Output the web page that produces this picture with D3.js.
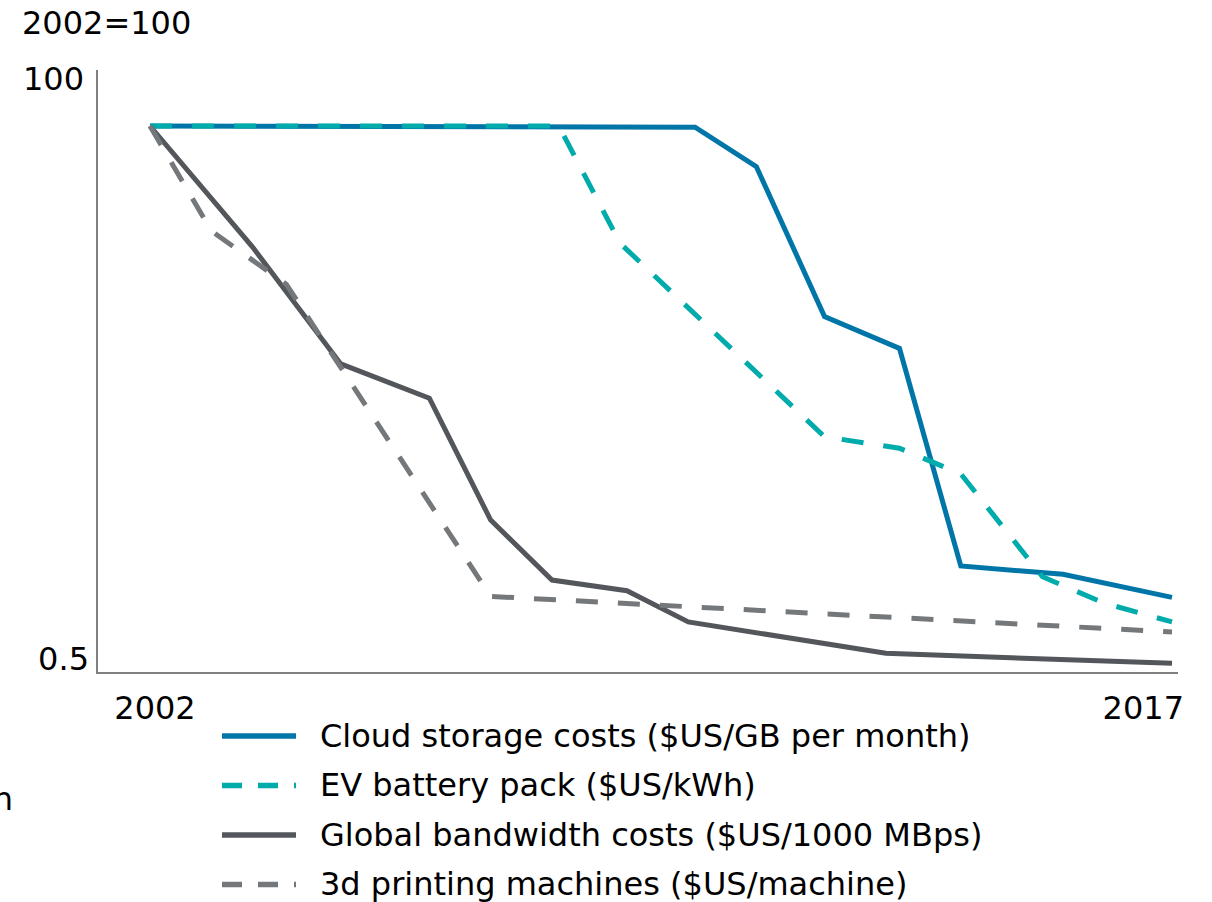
<!DOCTYPE html>
<html>
<head>
<meta charset="utf-8">
<script src="https://cdn.jsdelivr.net/npm/d3@7"></script>
<style>
  body { margin: 0; background: #fff; }
  text { font-family: "DejaVu Sans", Verdana, sans-serif; fill: #000; }
</style>
</head>
<body>
<div id="graph"></div>
<script>
// --------------------------------------
//  Data (index, 2002 = 100)
// --------------------------------------

const seriesNames = [
  "Cloud storage costs ($US/GB per month)",
  "EV battery pack ($US/kWh)",
  "Global bandwidth costs ($US/1000 MBps)",
  "3d printing machines ($US/machine)"
];

const cloudYears  = [2002, 2010.0, 2010.9, 2011.9, 2013.0, 2013.9, 2015.4, 2017];
const cloudValues = [100, 98.8, 67.4, 15.8, 11.6, 1.41, 1.30, 1.04];

const evYears  = [2002, 2008.0, 2008.9, 2011.9, 2013.0, 2013.9, 2015.1, 2016.0, 2017];
const evValues = [100, 100, 32.1, 4.93, 4.41, 3.44, 1.27, 0.985, 0.82];

const bandwidthYears  = [2002, 2003.5, 2004.8, 2006.1, 2007.0, 2007.9, 2009.0, 2009.9, 2012.8, 2017];
const bandwidthValues = [100, 31.1, 9.98, 7.16, 2.20, 1.23, 1.11, 0.82, 0.605, 0.549];

const printingYears  = [2002, 2002.9, 2004.0, 2007.0, 2017];
const printingValues = [100, 36.2, 21.6, 1.05, 0.744];

const xTickLabels = ["2002", "2017"];
const yTickLabels = ["0.5", "100"];
const unitLabel = "2002=100";

// --------------------------------------
//  Canvas
// --------------------------------------

const W = 1212, H = 902;
const frame = { left: 97, right: 1178, top: 70, bottom: 673 };
const fs = 32;

let svg = d3.select("#graph")
  .append("svg")
  .attr("width", W)
  .attr("height", H);

// --------------------------------------
//  Scales
// --------------------------------------

let x = d3.scaleLinear().domain([2002, 2017]).range([150, 1172]);
let y = d3.scaleLog().domain([0.5, 100]).range([frame.bottom, 126]);

let color = d3.scaleOrdinal()
  .domain(seriesNames)
  .range(["#0076a8", "#00abab", "#53565a", "#75787b"]);

const dashes = ["none", "22,20", "none", "22,20"];

const series = [
  { name: seriesNames[0], years: cloudYears, values: cloudValues },
  { name: seriesNames[1], years: evYears, values: evValues },
  { name: seriesNames[2], years: bandwidthYears, values: bandwidthValues },
  { name: seriesNames[3], years: printingYears, values: printingValues }
].map((s, i) => ({
  ...s,
  dash: dashes[i],
  points: s.years.map((yr, j) => ({ year: yr, value: s.values[j] }))
}));

// --------------------------------------
//  Axes
// --------------------------------------

svg.append("line")
  .attr("x1", frame.left).attr("x2", frame.left)
  .attr("y1", frame.top).attr("y2", frame.bottom + 1)
  .attr("stroke", "#808080").attr("stroke-width", 2);

svg.append("line")
  .attr("x1", frame.left).attr("x2", frame.right)
  .attr("y1", frame.bottom).attr("y2", frame.bottom)
  .attr("stroke", "#808080").attr("stroke-width", 2);

svg.append("text")
  .attr("x", 22).attr("y", 22).attr("dy", "0.36em")
  .attr("font-size", fs)
  .text(unitLabel);

// y labels sit at the ends of the axis
svg.append("text")
  .attr("x", 84).attr("y", frame.top + 8).attr("dy", "0.36em")
  .attr("text-anchor", "end").attr("font-size", fs)
  .text(yTickLabels[1]);

svg.append("text")
  .attr("x", 89).attr("y", frame.bottom - 15).attr("dy", "0.36em")
  .attr("text-anchor", "end").attr("font-size", fs)
  .text(yTickLabels[0]);

svg.append("text")
  .attr("x", x(2002) + 5).attr("y", 707).attr("dy", "0.36em")
  .attr("text-anchor", "middle").attr("font-size", fs)
  .text(xTickLabels[0]);

svg.append("text")
  .attr("x", x(2017) + 12).attr("y", 707).attr("dy", "0.36em")
  .attr("text-anchor", "end").attr("font-size", fs)
  .text(xTickLabels[1]);

// --------------------------------------
//  Lines
// --------------------------------------

const line = d3.line()
  .x((d) => x(d.year))
  .y((d) => y(d.value));

svg.append("g")
  .attr("fill", "none")
  .selectAll("path")
  .data(series)
  .join("path")
  .attr("d", (d) => line(d.points))
  .attr("stroke", (d) => color(d.name))
  .attr("stroke-width", 5)
  .attr("stroke-dasharray", (d) => d.dash)
  .attr("stroke-linejoin", "miter");

// --------------------------------------
//  Legend
// --------------------------------------

const legend = svg.append("g")
  .selectAll("g")
  .data(series)
  .join("g")
  .attr("transform", (d, i) => `translate(222, ${736 + i * 49.5})`);

legend.append("line")
  .attr("x1", 0).attr("x2", 74)
  .attr("stroke", (d) => color(d.name))
  .attr("stroke-width", 5.5)
  .attr("stroke-dasharray", (d) => (d.dash === "none" ? "none" : "20,16"));

legend.append("text")
  .attr("x", 98).attr("dy", "0.34em")
  .attr("font-size", fs)
  .text((d) => d.name);

// cut-off note at the left edge
svg.append("text")
  .attr("x", 13).attr("y", 798).attr("dy", "0.36em")
  .attr("text-anchor", "end").attr("font-size", fs)
  .text("n");
</script>
</body>
</html>
